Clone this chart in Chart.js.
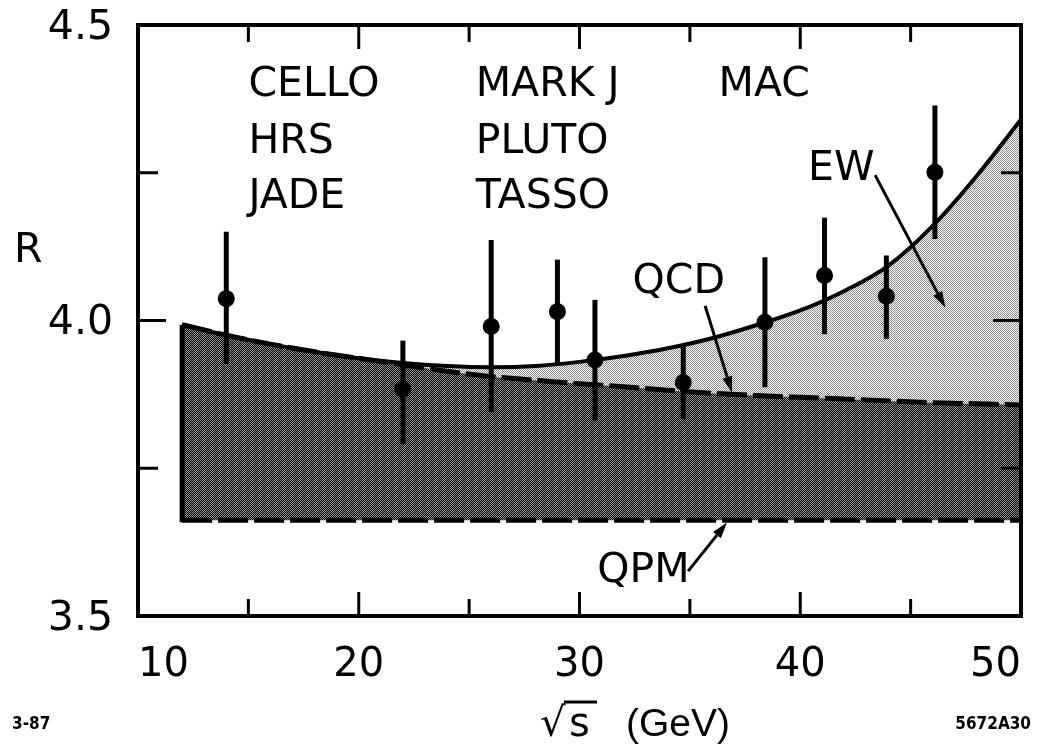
<!DOCTYPE html>
<html><head><meta charset="utf-8">
<script src="https://cdn.jsdelivr.net/npm/chart.js@4.4.1/dist/chart.umd.min.js"></script>
<style>html,body{margin:0;padding:0;background:#fff}canvas{display:block}</style>
</head><body>
<canvas id="c" width="1043" height="750"></canvas>
<script>
// ---- data ----
const energies  = [14.0, 22.0, 26.0, 29.0, 30.7, 34.7, 38.4, 41.1, 43.9, 46.1];
const rValues   = [4.037, 3.884, 3.990, 4.015, 3.933, 3.895, 3.997, 4.076, 4.041, 4.251];
const rErrUp    = [0.113, 0.082, 0.146, 0.088, 0.102, 0.063, 0.110, 0.098, 0.069, 0.113];
const rErrDown  = [0.110, 0.093, 0.145, 0.088, 0.102, 0.062, 0.110, 0.099, 0.072, 0.113];

const curveX    = [12, 14, 16, 18, 20, 22, 24, 26, 28, 30, 32, 34, 36, 38, 40, 42, 44, 46, 48, 50];
const ewCurve   = [3.993, 3.975, 3.960, 3.947, 3.936, 3.928, 3.923, 3.921, 3.923, 3.930, 3.940, 3.953, 3.970, 3.992, 4.017, 4.050, 4.093, 4.160, 4.245, 4.340];
const qcdCurve  = [3.993, 3.975, 3.960, 3.947, 3.936, 3.925, 3.914, 3.905, 3.899, 3.893, 3.888, 3.882, 3.877, 3.873, 3.870, 3.867, 3.864, 3.861, 3.859, 3.857];
const qpmLevel  = [3.662, 3.662, 3.662, 3.662, 3.662, 3.662, 3.662, 3.662, 3.662, 3.662, 3.662, 3.662, 3.662, 3.662, 3.662, 3.662, 3.662, 3.662, 3.662, 3.662];

const xTickLabels = [10, 20, 30, 40, 50];
const yTickLabels = [3.5, 4.0, 4.5];

const annotationTexts = ['CELLO', 'HRS', 'JADE', 'MARK J', 'PLUTO', 'TASSO', 'MAC', 'QCD', 'EW', 'QPM'];
const annotationX     = [15, 15, 15, 25.3, 25.3, 25.3, 36.3, 32.4, 40.35, 30.8];
const annotationY     = [4.398, 4.302, 4.208, 4.398, 4.302, 4.208, 4.398, 4.064, 4.256, 3.576];

const arrowFromX = [35.69, 43.39, 34.92];
const arrowFromY = [4.025, 4.246, 3.576];
const arrowToX   = [36.91, 46.57, 36.68];
const arrowToY   = [3.878, 4.022, 3.658];

// ---- halftone patterns ----
function makePattern(c1, c2) {
  const t = document.createElement('canvas');
  t.width = 2; t.height = 2;
  const g = t.getContext('2d');
  g.fillStyle = c1; g.fillRect(0, 0, 2, 2);
  g.fillStyle = c2; g.fillRect(0, 0, 1, 1); g.fillRect(1, 1, 1, 1);
  return g.createPattern(t, 'repeat');
}
const darkFill = makePattern('#000000', '#939393');
const lightFill = makePattern('#ffffff', '#8c8c8c');

const pts = (xs, ys) => xs.map((v, i) => ({x: v, y: ys[i]}));

Chart.defaults.font.family = 'DejaVu Sans';
Chart.defaults.color = '#000';

function arrow(ctx, x1, y1, x2, y2) {
  const ang = Math.atan2(y2 - y1, x2 - x1);
  const hl = 16, hw = 5;
  const bx = x2 - hl * Math.cos(ang), by = y2 - hl * Math.sin(ang);
  ctx.lineWidth = 3;
  ctx.beginPath(); ctx.moveTo(x1, y1); ctx.lineTo(bx, by); ctx.stroke();
  ctx.beginPath();
  ctx.moveTo(x2, y2);
  ctx.lineTo(bx + hw * Math.sin(ang), by - hw * Math.cos(ang));
  ctx.lineTo(bx - hw * Math.sin(ang), by + hw * Math.cos(ang));
  ctx.closePath(); ctx.fill();
}

const overlay = {
  id: 'overlay',
  afterDatasetsDraw(chart) {
    const ctx = chart.ctx, a = chart.chartArea, x = chart.scales.x, y = chart.scales.y;
    ctx.save();
    ctx.strokeStyle = '#000'; ctx.fillStyle = '#000'; ctx.lineCap = 'butt';
    // left edge of the shaded band
    const lx = x.getPixelForValue(curveX[0]);
    ctx.lineWidth = 5;
    ctx.beginPath(); ctx.moveTo(lx, y.getPixelForValue(qpmLevel[0]) + 2); ctx.lineTo(lx, y.getPixelForValue(ewCurve[0])); ctx.stroke();
    // error bars
    ctx.lineWidth = 5;
    energies.forEach((e, i) => {
      const px = x.getPixelForValue(e);
      ctx.beginPath();
      ctx.moveTo(px, y.getPixelForValue(rValues[i] + rErrUp[i]));
      ctx.lineTo(px, y.getPixelForValue(rValues[i] - rErrDown[i]));
      ctx.stroke();
    });
    // frame
    ctx.lineWidth = 4;
    ctx.strokeRect(a.left, a.top, a.right - a.left, a.bottom - a.top);
    // inward ticks
    ctx.lineWidth = 3;
    x.ticks.forEach(t => {
      if (t.value <= x.min || t.value >= x.max) return;
      const px = x.getPixelForValue(t.value);
      const L = xTickLabels.includes(t.value) ? 24 : 17;
      ctx.beginPath(); ctx.moveTo(px, a.bottom); ctx.lineTo(px, a.bottom - L); ctx.stroke();
      ctx.beginPath(); ctx.moveTo(px, a.top); ctx.lineTo(px, a.top + L); ctx.stroke();
    });
    y.ticks.forEach(t => {
      if (t.value <= y.min || t.value >= y.max) return;
      const py = y.getPixelForValue(t.value);
      const L = yTickLabels.includes(t.value) ? 28 : 20;
      ctx.beginPath(); ctx.moveTo(a.left, py); ctx.lineTo(a.left + L, py); ctx.stroke();
      ctx.beginPath(); ctx.moveTo(a.right, py); ctx.lineTo(a.right - L, py); ctx.stroke();
    });
    // annotation texts
    ctx.font = '41px "DejaVu Sans"';
    ctx.textAlign = 'left'; ctx.textBaseline = 'middle';
    annotationTexts.forEach((s, i) => {
      ctx.fillText(s, x.getPixelForValue(annotationX[i]), y.getPixelForValue(annotationY[i]));
    });
    // arrows
    arrowFromX.forEach((v, i) => {
      arrow(ctx, x.getPixelForValue(v), y.getPixelForValue(arrowFromY[i]),
                 x.getPixelForValue(arrowToX[i]), y.getPixelForValue(arrowToY[i]));
    });
    // axis titles
    ctx.textBaseline = 'alphabetic';
    ctx.fillText('R', 14, 262);
    ctx.font = '40px "DejaVu Sans"';
    ctx.fillText('\u221A', 540, 736);
    ctx.fillText('s', 569, 736);
    ctx.lineWidth = 3;
    ctx.beginPath(); ctx.moveTo(564, 702); ctx.lineTo(597, 702); ctx.stroke();
    ctx.font = '39px "Liberation Sans"';
    ctx.fillText('(GeV)', 626, 736);
    // footer codes
    ctx.font = 'bold 17px "DejaVu Sans Condensed", "DejaVu Sans"';
    ctx.textAlign = 'left';
    ctx.fillText('3-87', 12, 729);
    ctx.textAlign = 'right';
    ctx.fillText('5672A30', 1031, 729);
    ctx.restore();
  }
};

new Chart(document.getElementById('c'), {
  type: 'line',
  data: {
    datasets: [
      { label: 'QPM', data: pts(curveX, qpmLevel), borderColor: '#000', borderWidth: 5, borderDash: [30, 6],
        pointRadius: 0, fill: false, tension: 0 },
      { label: 'QCD', data: pts(curveX, qcdCurve), borderColor: '#000', borderWidth: 5, borderDash: [30, 6],
        pointRadius: 0, fill: '-1', backgroundColor: darkFill, tension: 0.4, cubicInterpolationMode: 'monotone' },
      { label: 'EW', data: pts(curveX, ewCurve), borderColor: '#000', borderWidth: 4,
        pointRadius: 0, fill: '-1', backgroundColor: lightFill, tension: 0.4, cubicInterpolationMode: 'monotone' },
      { label: 'data', data: pts(energies, rValues), showLine: false, pointRadius: 8.5,
        pointBackgroundColor: '#000', pointBorderColor: '#000', pointBorderWidth: 0 }
    ]
  },
  options: {
    responsive: false,
    devicePixelRatio: 1,
    animation: false,
    layout: { padding: { left: 0, top: 25, right: 22, bottom: 0 } },
    plugins: { legend: { display: false }, tooltip: { enabled: false }, filler: { drawTime: 'beforeDatasetsDraw' } },
    scales: {
      x: {
        type: 'linear', min: 10, max: 50,
        grid: { display: false, drawTicks: false },
        border: { display: false },
        ticks: { stepSize: 5, autoSkip: false, maxRotation: 0, padding: 26, align: 'inner',
                 font: { size: 40 }, color: '#000',
                 callback: v => xTickLabels.includes(v) ? String(v) : '' },
        afterFit: s => { s.height = 134; s.paddingLeft = 0; s.paddingRight = 0; }
      },
      y: {
        type: 'linear', min: 3.5, max: 4.5,
        grid: { display: false, drawTicks: false },
        border: { display: false },
        ticks: { stepSize: 0.25, autoSkip: false, padding: 25, labelOffset: 3,
                 font: { size: 41 }, color: '#000',
                 callback: v => yTickLabels.includes(v) ? v.toFixed(1) : '' },
        afterFit: s => { s.width = 138; s.paddingTop = 0; s.paddingBottom = 0; }
      }
    }
  },
  plugins: [overlay]
});
</script>
</body></html>
